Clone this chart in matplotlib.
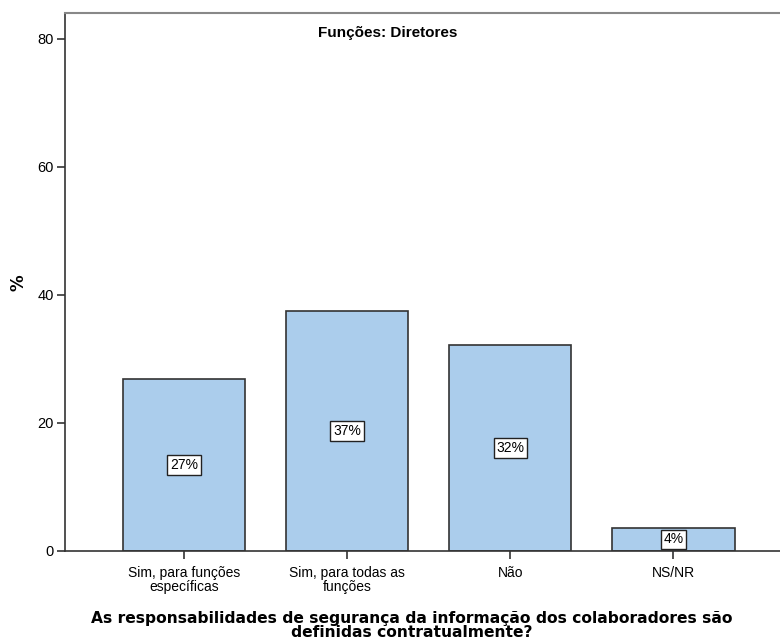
import numpy as np
import matplotlib.pyplot as plt

# data
categorias = ["Sim, para funções\nespecíficas", "Sim, para todas as\nfunções", "Não", "NS/NR"]
percentagens = [26.8, 37.5, 32.1, 3.6]
rotulos = ["27%", "37%", "32%", "4%"]
yticks = [0, 20, 40, 60, 80]

fig = plt.figure(figsize=(7.8, 6.42), dpi=100)
ax = fig.add_axes([65/780, 1 - 551/642, 1 - 65/780, (551 - 13)/642])

x = np.arange(len(categorias))
ax.bar(x, percentagens, width=0.75, color="#abcdec", edgecolor="#333333", linewidth=1.2, zorder=2)

for xi, v, r in zip(x, percentagens, rotulos):
    ax.text(xi, v / 2, r, ha="center", va="center", fontsize=10, family="Liberation Sans",
            bbox=dict(boxstyle="square,pad=0.2", fc="white", ec="#222222", lw=1), zorder=3)

ax.set_xlim(-0.73, 3 + (780 - 673.5) / 163)
ax.set_ylim(0, 84)
ax.set_yticks(yticks)
ax.set_xticks(x)
ax.set_xticklabels(categorias, fontsize=10, family="Liberation Sans", linespacing=1.0)
ax.tick_params(axis="y", labelsize=10.5, length=6, width=1.2, color="#333333", pad=2)
ax.tick_params(axis="x", length=6, width=1.2, color="#333333", pad=4.5)
for lab in ax.get_yticklabels():
    lab.set_family("Liberation Sans")

ax.spines["right"].set_visible(False)
ax.spines["left"].set_color("#333333")
ax.spines["bottom"].set_color("#333333")
ax.spines["top"].set_color("#888888")
ax.spines["left"].set_linewidth(1.2)
ax.spines["bottom"].set_linewidth(1.2)
ax.spines["top"].set_linewidth(1.5)

fig.text(388/780, 1 - 33/642, "Funções: Diretores", ha="center", va="center",
         fontsize=11, fontweight="bold", family="Liberation Sans")
fig.text(18/780, 1 - 283/642, "%", rotation=90, ha="center", va="center",
         fontsize=12, fontweight="bold", family="DejaVu Sans")
fig.text(412/780, 1 - 625.5/642,
         "As responsabilidades de segurança da informação dos colaboradores são\ndefinidas contratualmente?",
         ha="center", va="center", fontsize=11.2, fontweight="bold", family="DejaVu Sans",
         linespacing=0.95)

fig.savefig("out.png", dpi=100)
